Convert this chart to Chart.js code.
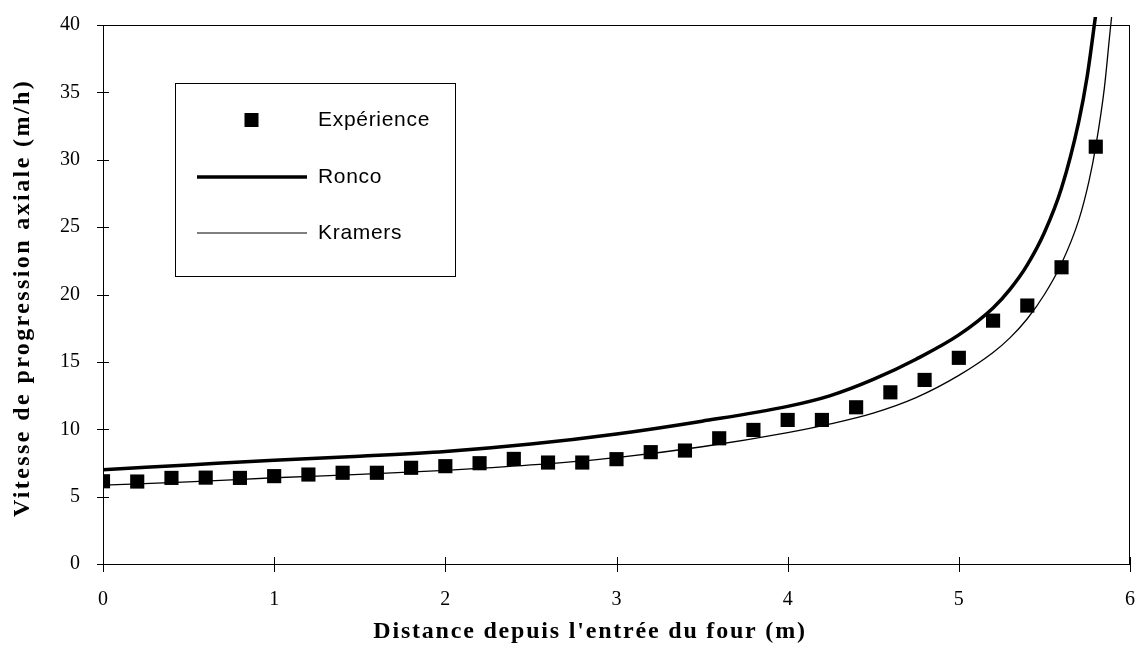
<!DOCTYPE html>
<html>
<head>
<meta charset="utf-8">
<script src="https://cdn.jsdelivr.net/npm/chart.js@4.4.0/dist/chart.umd.min.js"></script>
<style>
  body { margin: 0; background: #fff; overflow: hidden; }
  #wrap { width: 1135px; height: 653px; }
</style>
</head>
<body>
<div id="wrap"><canvas id="myChart"></canvas></div>
<script>
// experimental points
const expX = [0, 0.2, 0.4, 0.6, 0.8, 1.0, 1.2, 1.4, 1.6, 1.8, 2.0, 2.2, 2.4, 2.6, 2.8,
  3.0, 3.2, 3.4, 3.6, 3.8, 4.0, 4.2, 4.4, 4.6, 4.8, 5.0, 5.2, 5.4, 5.6, 5.8];
const expY = [6.14, 6.12, 6.39, 6.41, 6.39, 6.52, 6.64, 6.77, 6.77, 7.14, 7.26, 7.48, 7.80, 7.53, 7.53,
  7.78, 8.30, 8.42, 9.33, 9.95, 10.69, 10.69, 11.63, 12.74, 13.66, 15.30, 18.06, 19.18, 22.02, 30.97];

// Ronco model
const roncoX = [0, 0.5, 1.0, 1.5, 2.0, 2.5, 3.0, 3.5, 4.0, 4.25, 4.5, 4.75, 5.0, 5.2, 5.3, 5.4, 5.5, 5.6, 5.7, 5.75, 5.8];
const roncoY = [7.0, 7.35, 7.7, 8.0, 8.35, 8.9, 9.65, 10.6, 11.7, 12.5, 13.7, 15.2, 17.0, 19.0, 20.4, 22.2, 24.6, 27.9, 32.8, 36.2, 40.8];

// Kramers model
const kramX = [0, 0.5, 1.0, 1.5, 2.0, 2.5, 3.0, 3.5, 4.0, 4.25, 4.5, 4.75, 5.0, 5.2, 5.3, 5.4, 5.5, 5.6, 5.7, 5.76, 5.8, 5.85, 5.885, 5.9];
const kramY = [5.85, 6.1, 6.4, 6.65, 6.95, 7.35, 7.9, 8.7, 9.75, 10.4, 11.2, 12.35, 14.0, 15.7, 16.8, 18.2, 20.0, 22.3, 25.5, 28.4, 31.0, 35.3, 39.7, 41.5];

const yTicks = [0, 5, 10, 15, 20, 25, 30, 35, 40];
const xTicks = [0, 1, 2, 3, 4, 5, 6];

function pts(xs, ys) {
  return xs.map((x, i) => ({ x: x, y: ys[i] }));
}

function noPad(s) {
  s.paddingLeft = 0;
  s.paddingRight = 0;
  s.paddingTop = 0;
  s.paddingBottom = 0;
}

const serif = '"Liberation Serif", "Times New Roman", serif';
const sans = '"Liberation Sans", Arial, sans-serif';

// frame, crossing tick marks, axis titles and the boxed legend
const decor = {
  id: 'decor',
  afterDraw(chart) {
    const ctx = chart.ctx;
    const a = chart.chartArea;
    const xs = chart.scales.x, ys = chart.scales.y;
    ctx.save();
    ctx.strokeStyle = '#000';
    ctx.fillStyle = '#000';
    ctx.lineWidth = 1;
    ctx.strokeRect(a.left + 0.5, a.top + 0.5, a.right - a.left - 1, a.bottom - a.top);

    ctx.beginPath();
    yTicks.forEach(v => {
      const p = Math.round(ys.getPixelForValue(v)) + 0.5;
      ctx.moveTo(a.left - 6, p);
      ctx.lineTo(a.left + 6, p);
    });
    xTicks.forEach(v => {
      const p = Math.round(xs.getPixelForValue(v)) + 0.5;
      ctx.moveTo(p, a.bottom - 7);
      ctx.lineTo(p, a.bottom + 8);
    });
    ctx.stroke();

    // axis titles
    ctx.textAlign = 'center';
    ctx.textBaseline = 'middle';
    ctx.font = 'bold 24px ' + serif;
    ctx.letterSpacing = '1.8px';
    ctx.fillText("Distance depuis l'entrée du four (m)", 590, 632);
    ctx.save();
    ctx.translate(23, 298);
    ctx.rotate(-Math.PI / 2);
    ctx.letterSpacing = '2.4px';
    ctx.fillText('Vitesse de progression axiale (m/h)', 0, 0);
    ctx.restore();

    // legend
    ctx.strokeRect(175.5, 83.5, 280, 193);
    ctx.fillRect(244.5, 113, 14, 14);

    ctx.lineWidth = 3.5;
    ctx.beginPath();
    ctx.moveTo(197, 177);
    ctx.lineTo(307, 177);
    ctx.stroke();

    ctx.lineWidth = 1.2;
    ctx.beginPath();
    ctx.moveTo(197, 233);
    ctx.lineTo(307, 233);
    ctx.stroke();

    ctx.font = '21px ' + sans;
    ctx.letterSpacing = '0.7px';
    ctx.textAlign = 'left';
    ctx.fillText('Expérience', 318, 120);
    ctx.fillText('Ronco', 318, 177);
    ctx.fillText('Kramers', 318, 233);
    ctx.restore();
  }
};

const ctx = document.getElementById('myChart').getContext('2d');

new Chart(ctx, {
  type: 'scatter',
  data: {
    datasets: [
      {
        label: 'Ronco',
        data: pts(roncoX, roncoY),
        showLine: true,
        borderColor: '#000',
        borderWidth: 3.5,
        pointRadius: 0,
        cubicInterpolationMode: 'monotone',
        clip: { left: 0, top: 8, right: 0, bottom: 0 },
        order: 2
      },
      {
        label: 'Kramers',
        data: pts(kramX, kramY),
        showLine: true,
        borderColor: '#000',
        borderWidth: 1.3,
        pointRadius: 0,
        cubicInterpolationMode: 'monotone',
        clip: { left: 0, top: 8, right: 0, bottom: 0 },
        order: 3
      },
      {
        label: 'Expérience',
        data: pts(expX, expY),
        showLine: false,
        pointStyle: 'rect',
        pointRadius: 10,
        backgroundColor: '#000',
        borderWidth: 0,
        order: 1
      }
    ]
  },
  options: {
    responsive: true,
    maintainAspectRatio: false,
    animation: false,
    layout: { autoPadding: false, padding: { top: 25, right: 5, left: 0, bottom: 0 } },
    plugins: {
      legend: { display: false },
      tooltip: { enabled: false }
    },
    scales: {
      x: {
        type: 'linear',
        min: 0,
        max: 6,
        grid: { display: false, drawTicks: false },
        border: { display: false },
        ticks: {
          stepSize: 1,
          padding: 24,
          color: '#000',
          font: { family: serif, size: 20 }
        },
        afterFit(s) { s.height = 89; noPad(s); }
      },
      y: {
        type: 'linear',
        min: 0,
        max: 40,
        grid: { display: false, drawTicks: false },
        border: { display: false },
        ticks: {
          stepSize: 5,
          padding: 23,
          color: '#000',
          font: { family: serif, size: 20 }
        },
        afterFit(s) { s.width = 103; noPad(s); }
      }
    }
  },
  plugins: [decor]
});
</script>
</body>
</html>
